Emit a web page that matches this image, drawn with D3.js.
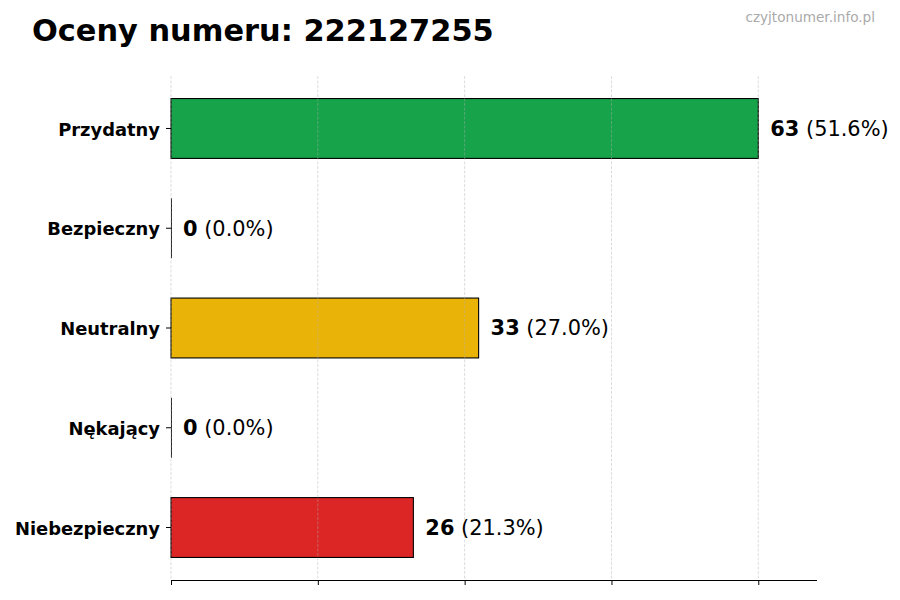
<!DOCTYPE html>
<html>
<head>
<meta charset="utf-8">
<script src="https://cdn.jsdelivr.net/npm/d3@7"></script>
<style>
  body { margin: 0; background: #fff; }
  svg { display: block; font-family: "DejaVu Sans", sans-serif; }
</style>
</head>
<body>
<svg></svg>
<script>
// chart data
const CATEGORIES = ['Przydatny', 'Bezpieczny', 'Neutralny', 'Nękający', 'Niebezpieczny'];
const COUNTS = [63, 0, 33, 0, 26];
const PERCENTS = ['51.6', '0.0', '27.0', '0.0', '21.3'];
const COLORS = ['#16a34a', '#3b82f6', '#eab308', '#f97316', '#dc2626'];
const X_TICKS = [0, 15.75, 31.5, 47.25, 63];

const TITLE = 'Oceny numeru: 222127255';
const WATERMARK = 'czyjtonumer.info.pl';

// layout
const WIDTH = 900, HEIGHT = 600;
const PLOT = { left: 171, right: 817, top: 76, bottom: 580 };

const svg = d3.select('svg')
    .attr('width', WIDTH)
    .attr('height', HEIGHT);

const xMax = d3.max(COUNTS) * 1.1;
const xScale = d3.scaleLinear()
    .domain([0, xMax])
    .range([PLOT.left, PLOT.right]);

const yScale = d3.scaleBand()
    .domain(CATEGORIES)
    .range([PLOT.top, PLOT.bottom])
    .paddingInner(0.4)
    .paddingOuter(0.226);

const rows = CATEGORIES.map((name, i) => ({
    name: name,
    count: COUNTS[i],
    pct: PERCENTS[i],
    color: COLORS[i]
}));

// bars
svg.append('g').selectAll('rect')
    .data(rows.filter(d => d.count > 0))
    .enter()
    .append('rect')
    .attr('x', xScale(0))
    .attr('y', d => yScale(d.name))
    .attr('width', d => xScale(d.count) - xScale(0))
    .attr('height', yScale.bandwidth())
    .style('fill', d => d.color)
    .style('stroke', '#000')
    .style('stroke-width', 1.1);

// zero bars only show their edge
svg.append('g').selectAll('line')
    .data(rows.filter(d => d.count === 0))
    .enter()
    .append('line')
    .attr('x1', xScale(0) + 0.5)
    .attr('x2', xScale(0) + 0.5)
    .attr('y1', d => yScale(d.name))
    .attr('y2', d => yScale(d.name) + yScale.bandwidth())
    .style('stroke', '#222')
    .style('stroke-width', 1);

// vertical grid (drawn over the bars)
svg.append('g').selectAll('line')
    .data(X_TICKS)
    .enter()
    .append('line')
    .attr('x1', d => xScale(d))
    .attr('x2', d => xScale(d))
    .attr('y1', PLOT.top)
    .attr('y2', PLOT.bottom)
    .style('stroke', '#b0b0b0')
    .style('stroke-opacity', 0.55)
    .style('stroke-width', 0.8)
    .style('stroke-dasharray', '3,1.5');

// bottom axis, ticks without labels
const xAxis = svg.append('g')
    .attr('transform', `translate(0,${PLOT.bottom})`)
    .call(d3.axisBottom(xScale).tickValues(X_TICKS).tickSize(5).tickSizeOuter(0).tickFormat(''));
xAxis.select('.domain').attr('d', `M${PLOT.left},0.5H${PLOT.right}`).style('stroke', '#000').style('stroke-width', 1.2);
xAxis.selectAll('.tick line').style('stroke', '#000').style('stroke-width', 1);

// left axis: ticks and category labels, no spine
const yAxis = svg.append('g')
    .attr('transform', `translate(${PLOT.left},0)`)
    .call(d3.axisLeft(yScale).tickSize(5).tickPadding(6));
yAxis.select('.domain').remove();
yAxis.selectAll('.tick line').style('stroke', '#000').style('stroke-width', 1);
yAxis.selectAll('.tick text')
    .attr('dy', '0.4em')
    .style('font-family', '"DejaVu Sans", sans-serif')
    .style('font-size', '17.9px')
    .style('font-weight', 'bold')
    .style('fill', '#000');

// value labels
const labels = svg.append('g').selectAll('text')
    .data(rows)
    .enter()
    .append('text')
    .attr('x', d => xScale(d.count) + 12)
    .attr('y', d => yScale(d.name) + yScale.bandwidth() / 2)
    .attr('dy', '0.35em')
    .style('font-size', '20.9px')
    .style('fill', '#000');

labels.append('tspan')
    .style('font-weight', 'bold')
    .text(d => d.count);
labels.append('tspan')
    .text(d => ` (${d.pct}%)`);

// title and watermark
svg.append('text')
    .attr('x', 32)
    .attr('y', 41)
    .style('font-size', '30.4px')
    .style('font-weight', 'bold')
    .style('fill', '#000')
    .text(TITLE);

svg.append('text')
    .attr('x', 875)
    .attr('y', 22)
    .attr('text-anchor', 'end')
    .style('font-size', '13.6px')
    .style('fill', '#aaaaaa')
    .text(WATERMARK);
</script>
</body>
</html>
